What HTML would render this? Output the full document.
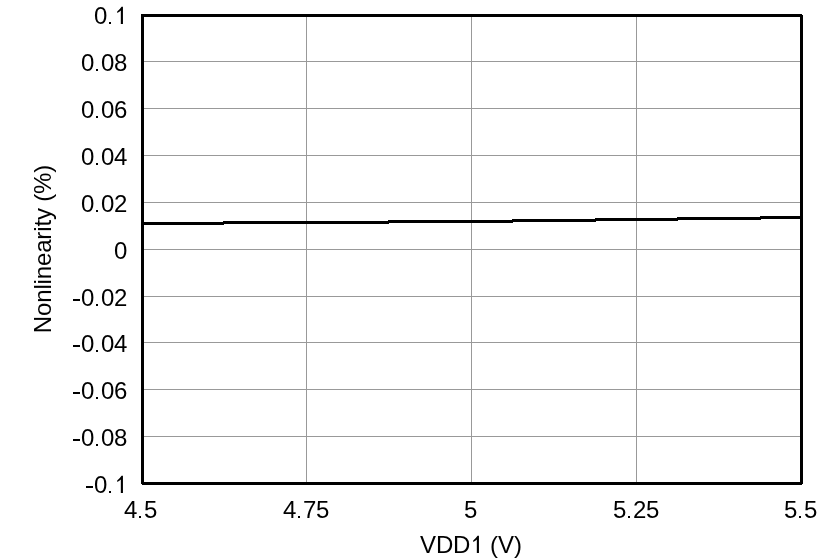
<!DOCTYPE html>
<html><head><meta charset="utf-8"><style>
html,body{margin:0;padding:0;background:#fff;width:839px;height:559px;overflow:hidden;position:relative}
div{position:absolute}
.g{background:#999}
.k{background:#000}
.t,.yt{font-family:"Liberation Sans",sans-serif;font-size:24px;line-height:28px;height:28px;color:#000;white-space:nowrap;will-change:transform}
.t span{display:inline-block;vertical-align:top}
.one{display:inline-block;vertical-align:top}
.yt{left:-57px;top:235px;width:200px;text-align:center;transform:rotate(-90deg);letter-spacing:-0.15px}
</style></head><body>
<div class="g" style="left:144px;top:61px;width:656px;height:1px"></div>
<div class="g" style="left:144px;top:108px;width:656px;height:1px"></div>
<div class="g" style="left:144px;top:155px;width:656px;height:1px"></div>
<div class="g" style="left:144px;top:202px;width:656px;height:1px"></div>
<div class="g" style="left:144px;top:249px;width:656px;height:1px"></div>
<div class="g" style="left:144px;top:296px;width:656px;height:1px"></div>
<div class="g" style="left:144px;top:342px;width:656px;height:1px"></div>
<div class="g" style="left:144px;top:389px;width:656px;height:1px"></div>
<div class="g" style="left:144px;top:436px;width:656px;height:1px"></div>
<div class="g" style="left:306px;top:17px;width:1px;height:465px"></div>
<div class="g" style="left:471px;top:17px;width:1px;height:465px"></div>
<div class="g" style="left:636px;top:17px;width:1px;height:465px"></div>
<div class="k" style="left:141px;top:14px;width:662px;height:3px"></div>
<div class="k" style="left:141px;top:482px;width:662px;height:3px"></div>
<div class="k" style="left:141px;top:14px;width:3px;height:471px"></div>
<div class="k" style="left:800px;top:14px;width:3px;height:471px"></div>
<div class="k" style="left:144px;top:222px;width:80px;height:3px"></div>
<div class="k" style="left:223px;top:221px;width:166px;height:3px"></div>
<div class="k" style="left:388px;top:220px;width:125px;height:3px"></div>
<div class="k" style="left:512px;top:219px;width:84px;height:3px"></div>
<div class="k" style="left:595px;top:218px;width:83px;height:3px"></div>
<div class="k" style="left:677px;top:217px;width:84px;height:3px"></div>
<div class="k" style="left:760px;top:216px;width:40px;height:3px"></div>
<div style="left:802px;top:14px;width:1px;height:1px;background:#fff"></div>
<div style="left:802px;top:484px;width:1px;height:1px;background:#fff"></div>
<div style="left:141px;top:484px;width:1px;height:1px;background:#fff"></div>
<div class="t" style="left:94px;top:2px"><span style="width:13px">0</span><svg class="one" width="7" height="28" viewBox="0 0 7 28"><rect x="2" y="20" width="2" height="2"/></svg><svg class="one" width="13" height="28" viewBox="0 0 13 28"><path d="M8.94 22H6.83V8.56Q5.7 9.75 3.2 11.0V9.4Q5.5 8.0 7.55 4.82H8.94Z"/></svg></div>
<div class="t" style="left:81px;top:49px"><span style="width:13px">0</span><svg class="one" width="7" height="28" viewBox="0 0 7 28"><rect x="2" y="20" width="2" height="2"/></svg><span style="width:13px">0</span><span style="width:13px">8</span></div>
<div class="t" style="left:81px;top:96px"><span style="width:13px">0</span><svg class="one" width="7" height="28" viewBox="0 0 7 28"><rect x="2" y="20" width="2" height="2"/></svg><span style="width:13px">0</span><span style="width:13px">6</span></div>
<div class="t" style="left:81px;top:143px"><span style="width:13px">0</span><svg class="one" width="7" height="28" viewBox="0 0 7 28"><rect x="2" y="20" width="2" height="2"/></svg><span style="width:13px">0</span><span style="width:13px">4</span></div>
<div class="t" style="left:81px;top:190px"><span style="width:13px">0</span><svg class="one" width="7" height="28" viewBox="0 0 7 28"><rect x="2" y="20" width="2" height="2"/></svg><span style="width:13px">0</span><span style="width:13px">2</span></div>
<div class="t" style="left:114px;top:237px"><span style="width:13px">0</span></div>
<div class="t" style="left:72px;top:284px"><svg class="one" width="9" height="28" viewBox="0 0 9 28"><rect x="1" y="15" width="7" height="2"/></svg><span style="width:13px">0</span><svg class="one" width="7" height="28" viewBox="0 0 7 28"><rect x="2" y="20" width="2" height="2"/></svg><span style="width:13px">0</span><span style="width:13px">2</span></div>
<div class="t" style="left:72px;top:330px"><svg class="one" width="9" height="28" viewBox="0 0 9 28"><rect x="1" y="15" width="7" height="2"/></svg><span style="width:13px">0</span><svg class="one" width="7" height="28" viewBox="0 0 7 28"><rect x="2" y="20" width="2" height="2"/></svg><span style="width:13px">0</span><span style="width:13px">4</span></div>
<div class="t" style="left:72px;top:377px"><svg class="one" width="9" height="28" viewBox="0 0 9 28"><rect x="1" y="15" width="7" height="2"/></svg><span style="width:13px">0</span><svg class="one" width="7" height="28" viewBox="0 0 7 28"><rect x="2" y="20" width="2" height="2"/></svg><span style="width:13px">0</span><span style="width:13px">6</span></div>
<div class="t" style="left:72px;top:424px"><svg class="one" width="9" height="28" viewBox="0 0 9 28"><rect x="1" y="15" width="7" height="2"/></svg><span style="width:13px">0</span><svg class="one" width="7" height="28" viewBox="0 0 7 28"><rect x="2" y="20" width="2" height="2"/></svg><span style="width:13px">0</span><span style="width:13px">8</span></div>
<div class="t" style="left:85px;top:471px"><svg class="one" width="9" height="28" viewBox="0 0 9 28"><rect x="1" y="15" width="7" height="2"/></svg><span style="width:13px">0</span><svg class="one" width="7" height="28" viewBox="0 0 7 28"><rect x="2" y="20" width="2" height="2"/></svg><svg class="one" width="13" height="28" viewBox="0 0 13 28"><path d="M8.94 22H6.83V8.56Q5.7 9.75 3.2 11.0V9.4Q5.5 8.0 7.55 4.82H8.94Z"/></svg></div>
<div class="t" style="left:124px;top:496px"><span style="width:13px">4</span><svg class="one" width="7" height="28" viewBox="0 0 7 28"><rect x="2" y="20" width="2" height="2"/></svg><span style="width:13px">5</span></div>
<div class="t" style="left:283px;top:496px"><span style="width:13px">4</span><svg class="one" width="7" height="28" viewBox="0 0 7 28"><rect x="2" y="20" width="2" height="2"/></svg><span style="width:13px">7</span><span style="width:13px">5</span></div>
<div class="t" style="left:464px;top:496px"><span style="width:13px">5</span></div>
<div class="t" style="left:613px;top:496px"><span style="width:13px">5</span><svg class="one" width="7" height="28" viewBox="0 0 7 28"><rect x="2" y="20" width="2" height="2"/></svg><span style="width:13px">2</span><span style="width:13px">5</span></div>
<div class="t" style="left:784px;top:496px"><span style="width:13px">5</span><svg class="one" width="7" height="28" viewBox="0 0 7 28"><rect x="2" y="20" width="2" height="2"/></svg><span style="width:13px">5</span></div>
<div class="t" style="left:420px;top:531px"><span style="width:16px">V</span><span style="width:17px">D</span><span style="width:17px">D</span><svg class="one" width="13" height="28" viewBox="0 0 13 28"><path d="M8.94 22H6.83V8.56Q5.7 9.75 3.2 11.0V9.4Q5.5 8.0 7.55 4.82H8.94Z"/></svg><span style="width:7px">&nbsp;</span><span style="width:8px">(</span><span style="width:16px">V</span><span style="width:8px">)</span></div>
<div class="yt">Nonlinearity (%)</div>
</body></html>
